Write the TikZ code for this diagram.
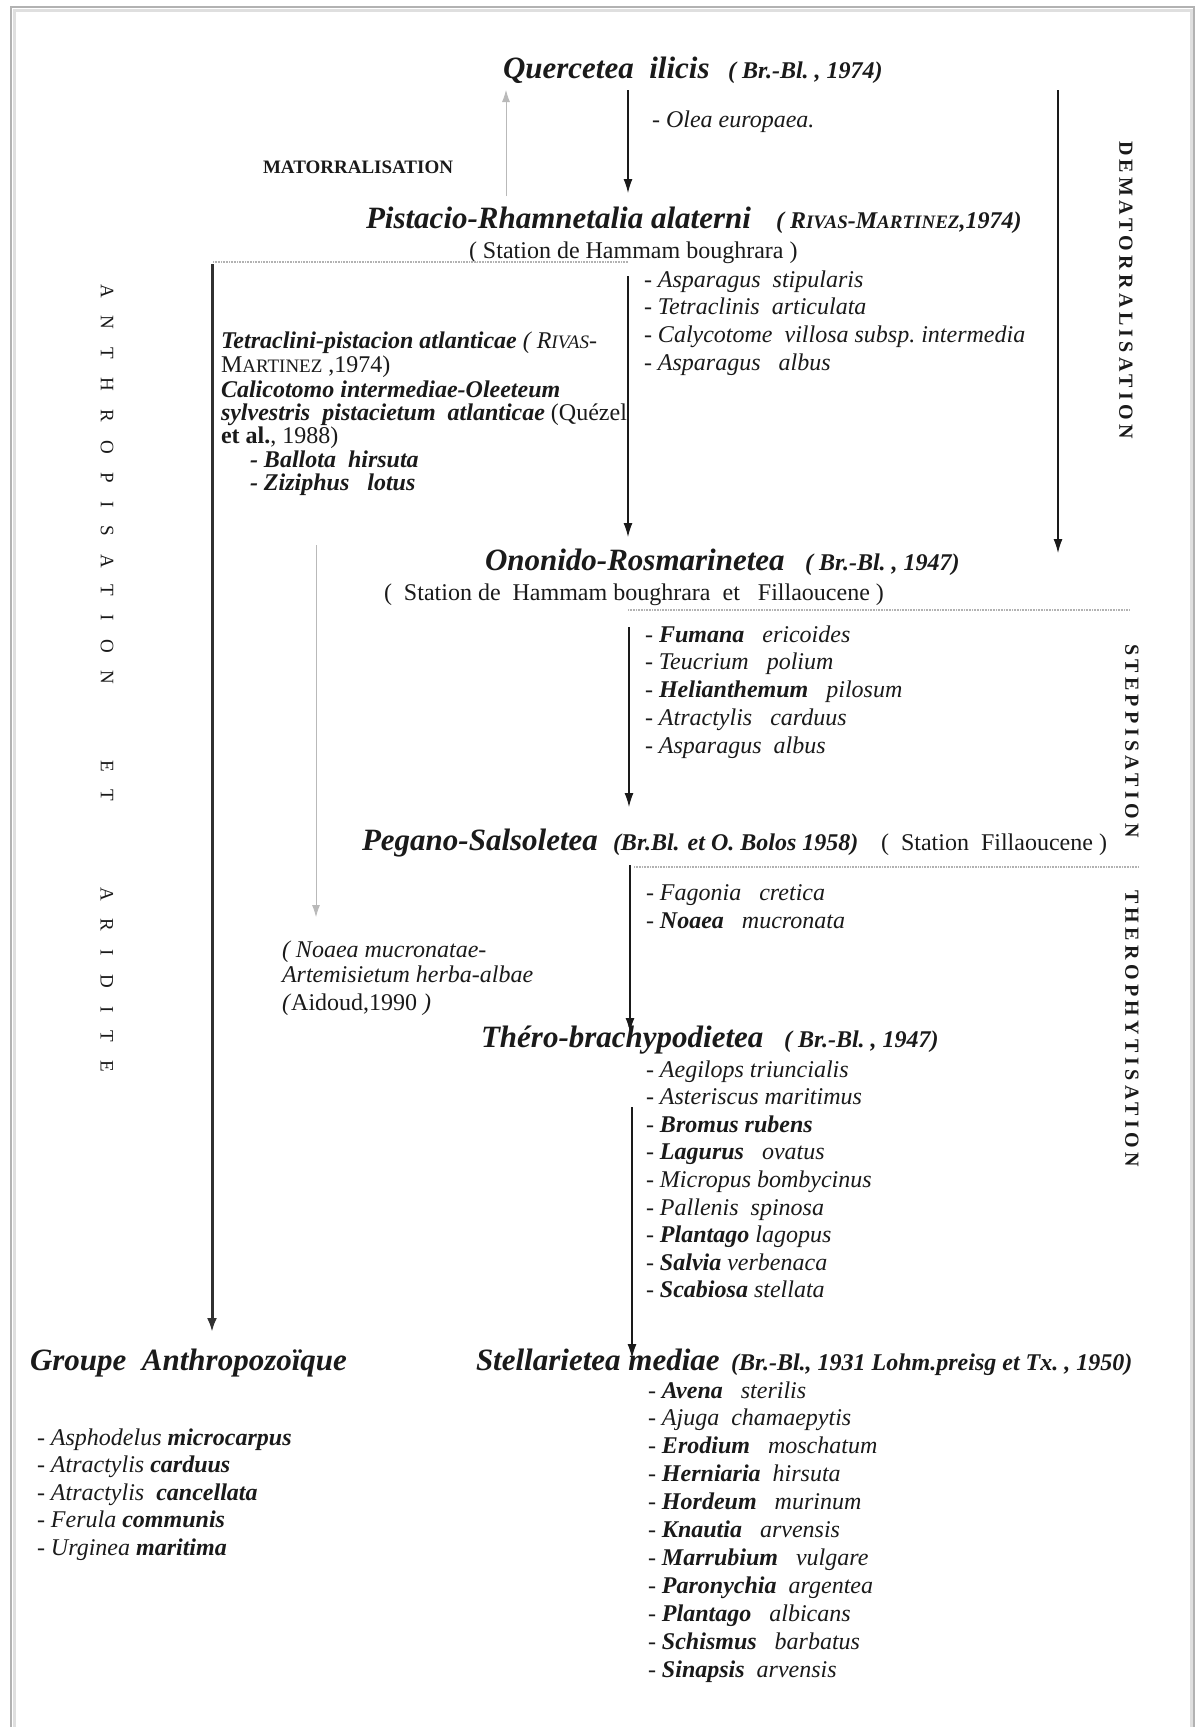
\documentclass[tikz,border=0pt]{standalone}
\usepackage{fontspec}
\setmainfont{Liberation Serif}
\usetikzlibrary{arrows.meta}
\newcommand{\myfs}[1]{\fontsize{#1}{#1}\selectfont}
\newcommand{\mysc}[1]{{\fontsize{19}{19}\selectfont #1}}
\definecolor{ink}{HTML}{1A1A1A}
\tikzset{
  every node/.style={inner sep=0pt, outer sep=0pt, text=ink},
  ttl/.style={font=\myfs{31}\bfseries\itshape, anchor=base west},
  cit/.style={font=\myfs{24}\bfseries\itshape, anchor=base west},
  stn/.style={font=\myfs{24}, anchor=base west},
  spc/.style={font=\myfs{24}\itshape, anchor=base west},
  lft/.style={font=\myfs{24}\bfseries\itshape, anchor=base west},
  vlab/.style={font={\myfs{20}\bfseries\addfontfeature{LetterSpace=22}}, rotate=-90, anchor=west},
  vlabb/.style={font={\myfs{19}\addfontfeature{LetterSpace=96}}, rotate=-90, anchor=west},
  arr/.style={-{Latex[length=14pt,width=9pt]}, line width=1.3pt, draw=ink},
  thick arr/.style={-{Latex[length=14pt,width=10pt]}, line width=3pt, draw=ink!90},
  garr/.style={-{Latex[length=12pt,width=8pt]}, line width=0.8pt, draw=gray!55},
  dots/.style={draw=gray!60, line width=1.6pt, dash pattern=on 0.8pt off 0.8pt},
}
\begin{document}
\begin{tikzpicture}[x=1pt,y=-1pt]
\useasboundingbox (0,0) rectangle (1195,1727);
\fill[white] (0,0) rectangle (1195,1727);
% frame
\draw[gray!25, line width=3pt] (14,1727) -- (14,10) -- (1191,10) -- (1191,1727);
\draw[gray!60, line width=1.2pt] (11,1727) -- (11,7) -- (1194,7) -- (1194,1727);

% titles
\node[ttl] (q) at (503,78) {Quercetea~~ilicis};
\node[cit] (qc) at (728,78) {(~Br.-Bl.~,~1974)};
\node[spc] (olea) at (652,127) {- Olea europaea.};
\node[font=\myfs{19}\bfseries, anchor=base west] (mat) at (263,173) {MATORRALISATION};

\node[ttl] (pr) at (366,228) {Pistacio-Rhamnetalia alaterni};
\node[cit] (prc) at (776,228) {(~R\mysc{IVAS}-M\mysc{ARTINEZ},1974)};
\node[stn] (prs) at (469,258) {(~Station de Hammam boughrara~)};

\foreach \t [count=\i] in {{Asparagus~~stipularis},{Tetraclinis~~articulata},{Calycotome~~villosa subsp.~intermedia},{Asparagus~~~albus}}
  \node[spc] (pa\i) at (644,{287+27.7*(\i-1)}) {- \t};

% left block
\node[lft] (l1) at (221,348) {Tetraclini-pistacion atlanticae {\mdseries(~R\mysc{IVAS}-}};
\node[stn] (l2) at (221,372) {M\mysc{ARTINEZ} ,1974)};
\node[lft] (l3) at (221,397) {Calicotomo intermediae-Oleeteum};
\node[lft] (l4) at (221,420) {sylvestris~ pistacietum~ atlanticae {\mdseries\upshape(Quézel}};
\node[stn] (l5) at (221,443) {\textbf{et al.}, 1988)};
\node[lft] (l6) at (250,467) {- Ballota~ hirsuta};
\node[lft] (l7) at (250,490) {- Ziziphus~~ lotus};

% Ononido
\node[ttl] (on) at (485,570) {Ononido-Rosmarinetea};
\node[cit] (onc) at (805,570) {(~Br.-Bl.~,~1947)};
\node[stn] (ons) at (384,600) {(~ Station de~ Hammam boughrara~ et~~ Fillaoucene~)};
\foreach \t [count=\i] in {{\textbf{Fumana}~~ ericoides},{Teucrium~~ polium},{\textbf{Helianthemum}~~ pilosum},{Atractylis~~ carduus},{Asparagus~ albus}}
  \node[spc] (ob\i) at (645,{642+27.8*(\i-1)}) {- \t};

% Pegano
\node[ttl] (pg) at (362,850) {Pegano-Salsoletea};
\node[cit] (pgc) at (613,850) {(Br.Bl. et O. Bolos 1958)};
\node[stn] (pgs) at (881,850) {(~ Station~ Fillaoucene~)};
\foreach \t [count=\i] in {{Fagonia~~ cretica},{\textbf{Noaea}~~ mucronata}}
  \node[spc] (pc\i) at (646,{900+28*(\i-1)}) {- \t};

% Noaea block
\node[spc] (n1) at (282,957) {( Noaea mucronatae-};
\node[spc] (n2) at (282,982) {Artemisietum herba-albae};
\node[stn] (n3) at (282,1010) {\textit{(}Aidoud,1990 \textit{)}};

% Thero
\node[ttl] (th) at (481,1047) {Théro-brachypodietea};
\node[cit] (thc) at (784,1047) {(~Br.-Bl.~,~1947)};
\foreach \t [count=\i] in {{Aegilops triuncialis},{Asteriscus maritimus},{\textbf{Bromus rubens}},{\textbf{Lagurus}~~ ovatus},{Micropus bombycinus},{Pallenis~ spinosa},{\textbf{Plantago} lagopus},{\textbf{Salvia} verbenaca},{\textbf{Scabiosa} stellata}}
  \node[spc] (pd\i) at (646,{1077+27.6*(\i-1)}) {- \t};

% Stellarietea
\node[ttl] (st) at (476,1370) {Stellarietea mediae};
\node[cit] (stc) at (731,1370) {(Br.-Bl., 1931 Lohm.preisg et Tx.~, 1950)};
\foreach \t [count=\i] in {{\textbf{Avena}~~ sterilis},{Ajuga~ chamaepytis},{\textbf{Erodium}~~ moschatum},{\textbf{Herniaria}~ hirsuta},{\textbf{Hordeum}~~ murinum},{\textbf{Knautia}~~ arvensis},{\textbf{Marrubium}~~ vulgare},{\textbf{Paronychia}~ argentea},{\textbf{Plantago}~~ albicans},{\textbf{Schismus}~~ barbatus},{\textbf{Sinapsis}~ arvensis}}
  \node[spc] (pe\i) at (648,{1398+27.9*(\i-1)}) {- \t};

% Groupe
\node[ttl] (ga) at (30,1370) {Groupe~~Anthropozoïque};
\foreach \t [count=\i] in {{Asphodelus \textbf{microcarpus}},{Atractylis \textbf{carduus}},{Atractylis~ \textbf{cancellata}},{Ferula \textbf{communis}},{Urginea \textbf{maritima}}}
  \node[spc] (pf\i) at (37,{1445+27.5*(\i-1)}) {- \t};

% vertical labels
\node[vlab] (dem) at (1126,141) {DEMATORRALISATION};
\node[vlab] (ste) at (1132,644) {STEPPISATION};
\node[vlab] (ther) at (1132,890) {THEROPHYTISATION};
\node[vlabb] (an1) at (107,284) {ANTHROPISATION};
\node[vlabb] (an2) at (107,760) {ET};
\node[vlabb] (an3) at (107,887) {ARIDITE};

% dotted separators
\coordinate (d1a) at (213,262); \coordinate (d1b) at (628,262);
\coordinate (d2a) at (628,610); \coordinate (d2b) at (1130,610);
\coordinate (d3a) at (634,867); \coordinate (d3b) at (1139,867);
\draw[dots] (d1a) -- (d1b);
\draw[dots] (d2a) -- (d2b);
\draw[dots] (d3a) -- (d3b);

% arrows
\coordinate (a1s) at (506,196); \coordinate (a1e) at (506,90);
\coordinate (a2s) at (628,90);  \coordinate (a2e) at (628,193);
\coordinate (a3s) at (1058,90); \coordinate (a3e) at (1058,553);
\coordinate (a4s) at (628,276); \coordinate (a4e) at (628,537);
\coordinate (a5s) at (629,627); \coordinate (a5e) at (629,807);
\coordinate (a6s) at (630,865); \coordinate (a6e) at (630,1032);
\coordinate (a7s) at (632,1107); \coordinate (a7e) at (632,1358);
\coordinate (a8s) at (212,264); \coordinate (a8e) at (212,1332);
\coordinate (a9s) at (316,545); \coordinate (a9e) at (316,917);
\draw[garr] (a1s) -- (a1e);
\draw[arr] (a2s) -- (a2e);
\draw[arr] (a3s) -- (a3e);
\draw[arr] (a4s) -- (a4e);
\draw[arr] (a5s) -- (a5e);
\draw[arr] (a6s) -- (a6e);
\draw[arr] (a7s) -- (a7e);
\draw[thick arr] (a8s) -- (a8e);
\draw[garr] (a9s) -- (a9e);
\end{tikzpicture}
\end{document}
